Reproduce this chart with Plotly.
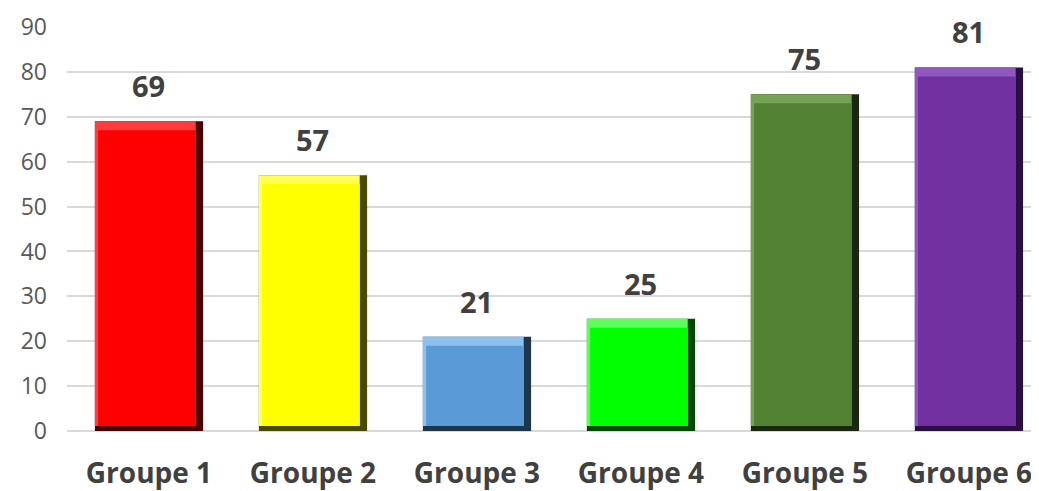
import plotly.graph_objects as go

categories = ["Groupe 1", "Groupe 2", "Groupe 3", "Groupe 4", "Groupe 5", "Groupe 6"]
values = [69, 57, 21, 25, 75, 81]
face_colors = ["#FF0000", "#FFFF00", "#5B9BD5", "#00FF00", "#548235", "#7030A0"]
dark_colors = ["#4a0000", "#4a4a08", "#1e364c", "#004a00", "#1a2811", "#2a1040"]
light_colors = ["#ff3d3d", "#ffff55", "#8cc0ee", "#5cff5c", "#76a255", "#9156c0"]

W = 0.66
ex_r = 0.045
ex_l = 0.02
b_top = 2.0
b_bot = 1.1

fig = go.Figure()
# dark edge layer
fig.add_trace(go.Bar(x=categories, y=values, base=0, width=W, offset=-W / 2,
                     marker=dict(color=dark_colors, line=dict(width=0)),
                     hoverinfo="skip", showlegend=False))
# light bevel layer (top/left)
fig.add_trace(go.Bar(x=categories, y=[v - b_bot for v in values], base=b_bot,
                     width=W - ex_r, offset=-W / 2,
                     marker=dict(color=light_colors, line=dict(width=0)),
                     hoverinfo="skip", showlegend=False))
# main face
fig.add_trace(go.Bar(x=categories, y=[v - b_bot - b_top for v in values], base=b_bot,
                     width=W - ex_l - ex_r, offset=-W / 2 + ex_l,
                     marker=dict(color=face_colors, line=dict(width=0)),
                     hoverinfo="skip", showlegend=False))

for c, v in zip(categories, values):
    fig.add_annotation(x=c, y=v, text=str(v), showarrow=False, yanchor="bottom",
                       yshift=14, font=dict(family="Open Sans", size=29, color="#404040", weight="bold"))

fig.update_layout(
    barmode="overlay",
    width=1039, height=491,
    margin=dict(l=59, r=0, t=19, b=68),
    paper_bgcolor="white", plot_bgcolor="white",
    font=dict(family="Open Sans"),
)
fig.update_xaxes(range=[-0.5, 5.476], showgrid=False, showline=False, ticks="",
                 ticklabelstandoff=23, automargin=False,
                 tickfont=dict(family="Open Sans", size=28, color="#404040", weight="bold"))
fig.update_yaxes(range=[0, 90], dtick=10, showgrid=True, gridcolor="#d9d9d9", gridwidth=2,
                 zeroline=True, zerolinecolor="#d9d9d9", zerolinewidth=2, showline=False,
                 ticks="", ticklabelstandoff=19, automargin=False,
                 tickfont=dict(family="Open Sans", size=23, color="#595959"))

fig.write_html("out.html")
